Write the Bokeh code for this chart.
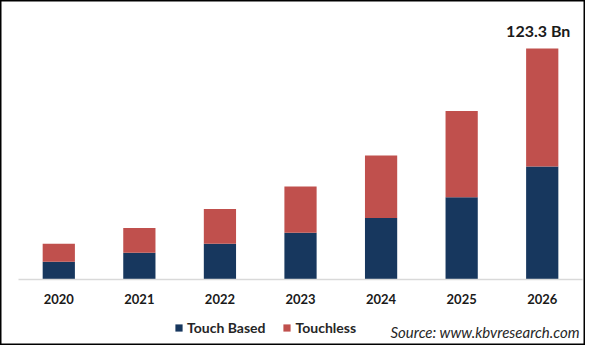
from bokeh.plotting import figure
from bokeh.models import ColumnDataSource, Range1d, Legend, LegendItem, Label, FixedTicker
from bokeh.core.properties import value
from bokeh.embed import file_html
from bokeh.resources import INLINE

years = ["2020", "2021", "2022", "2023", "2024", "2025", "2026"]
touch_based = [9.5, 14.3, 19.1, 24.9, 32.8, 43.9, 60.3]
touchless = [9.6, 13.2, 18.5, 24.8, 33.4, 46.1, 63.0]
series = ["Touch Based", "Touchless"]
colors = ["#17375e", "#c0504d"]
top_label = "123.3 Bn"

pos = [i + 0.5 for i in range(len(years))]
source = ColumnDataSource(data=dict(x=pos, tb=touch_based, tl=touchless))

p = figure(x_range=Range1d(-0.2234, 7.037), y_range=Range1d(-35.23, 148.93),
           width=585, height=345, output_backend="svg", toolbar_location=None,
           min_border_left=0, min_border_right=0, min_border_top=0, min_border_bottom=0)
p.outline_line_color = "#000000"
p.outline_line_width = 2
p.grid.grid_line_color = None
p.yaxis.visible = False
p.background_fill_color = "white"
p.border_fill_color = "white"

rs = p.vbar_stack(["tb", "tl"], x="x", width=0.4, color=colors, line_color=None, source=source)

# baseline across the category band
p.line(x=[0, len(years)], y=[0, 0], line_color="#d9d9d9", line_width=1.5)

xa = p.xaxis[0]
xa.fixed_location = 0
xa.ticker = FixedTicker(ticks=pos)
xa.major_label_overrides = {x: y for x, y in zip(pos, years)}
xa.axis_line_color = None
xa.major_tick_line_color = None
xa.minor_tick_line_color = None
xa.major_label_text_font = "Lato"
xa.major_label_text_font_style = "bold"
xa.major_label_text_font_size = "13px"
xa.major_label_text_color = "#1a1a1a"
xa.major_label_standoff = 8

legend = Legend(items=[LegendItem(label=series[0], renderers=[rs[0]]),
                       LegendItem(label=series[1], renderers=[rs[1]])],
                location=(174, 9), orientation="horizontal",
                padding=0, margin=0, spacing=17, glyph_width=9, glyph_height=9,
                label_standoff=4, label_height=16,
                label_text_font="Lato", label_text_font_style="bold",
                label_text_font_size="14px", label_text_color="#262626",
                border_line_color=None, background_fill_alpha=0)
p.add_layout(legend)

p.text(x=[pos[-1]], y=[touch_based[-1] + touchless[-1]], text=[top_label],
       text_align="center", text_baseline="bottom", x_offset=-4, y_offset=-9,
       text_font=value("Lato"), text_font_style="bold", text_font_size="16px",
       text_color="#1a1a1a")

p.add_layout(Label(x=390, y=14, x_units="screen", y_units="screen",
                   text="Source: www.kbvresearch.com", text_align="left", text_baseline="middle",
                   text_font="Lato", text_font_style="italic", text_font_size="15px",
                   text_color="#262626"))

open("out.html", "w").write(file_html(p, INLINE))
